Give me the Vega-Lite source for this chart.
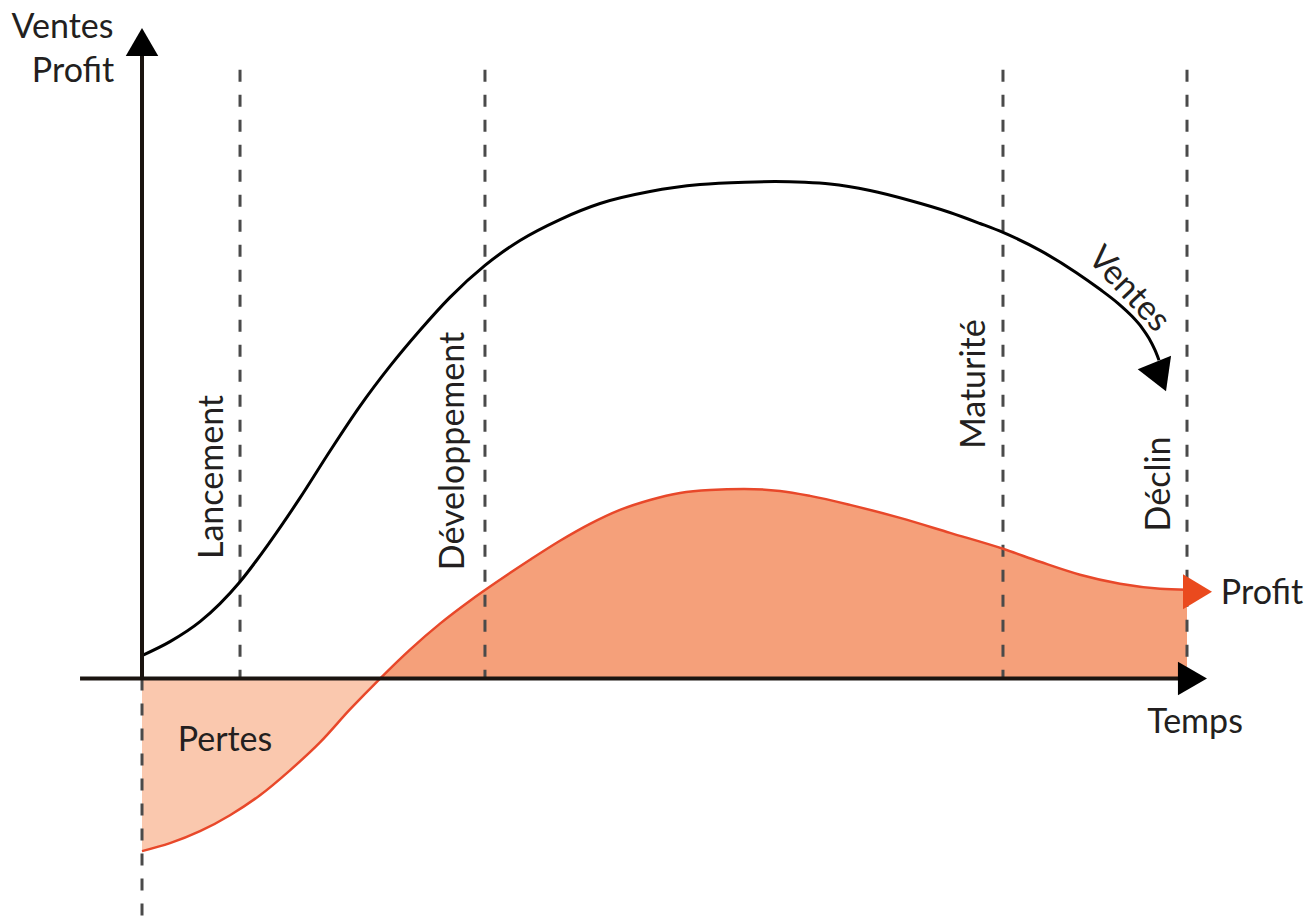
{
  "$schema": "https://vega.github.io/schema/vega-lite/v6.json",
  "width": 1316,
  "height": 923,
  "padding": 0,
  "autosize": {"type": "fit", "contains": "padding"},
  "background": "white",
  "config": {"view": {"stroke": null}},
  "datasets": {
    "ventes": [
      {"t": 0, "v": 3.53}, {"t": 2.68, "v": 5.67}, {"t": 5.55, "v": 8.74}, {"t": 9.38, "v": 14.88},
      {"t": 12.25, "v": 21.01}, {"t": 15.12, "v": 27.76}, {"t": 17.99, "v": 34.97}, {"t": 20.86, "v": 41.87},
      {"t": 23.73, "v": 48.01}, {"t": 26.6, "v": 53.53}, {"t": 29.47, "v": 58.59}, {"t": 32.82, "v": 63.5},
      {"t": 36.17, "v": 67.33}, {"t": 40.0, "v": 70.55}, {"t": 43.83, "v": 73.01}, {"t": 48.61, "v": 74.85},
      {"t": 53.4, "v": 75.92}, {"t": 57.7, "v": 76.29}, {"t": 60.57, "v": 76.38}, {"t": 63.44, "v": 76.26},
      {"t": 65.84, "v": 76.0}, {"t": 69.67, "v": 75.0}, {"t": 73.49, "v": 73.47}, {"t": 77.32, "v": 71.63},
      {"t": 80.19, "v": 69.94}, {"t": 82.39, "v": 68.56}, {"t": 85.93, "v": 65.8}, {"t": 89.38, "v": 62.42},
      {"t": 91.67, "v": 59.82}, {"t": 93.4, "v": 57.67}, {"t": 94.74, "v": 55.67}, {"t": 95.69, "v": 53.91},
      {"t": 96.36, "v": 52.3}, {"t": 96.94, "v": 50.46}, {"t": 97.32, "v": 48.93}
    ],
    "profit": [
      {"t": 0, "v": -26.53}, {"t": 2.68, "v": -25.31}, {"t": 5.55, "v": -23.47}, {"t": 8.42, "v": -21.01},
      {"t": 11.29, "v": -17.94}, {"t": 14.16, "v": -14.11}, {"t": 17.03, "v": -9.82}, {"t": 19.9, "v": -4.75},
      {"t": 22.78, "v": 0}, {"t": 25.65, "v": 4.45}, {"t": 28.52, "v": 8.44}, {"t": 31.39, "v": 11.96},
      {"t": 34.26, "v": 15.18}, {"t": 37.13, "v": 18.25}, {"t": 40.0, "v": 21.17}, {"t": 42.87, "v": 23.77},
      {"t": 45.74, "v": 25.92}, {"t": 48.61, "v": 27.45}, {"t": 51.48, "v": 28.53}, {"t": 54.35, "v": 28.99},
      {"t": 57.61, "v": 29.14}, {"t": 61.05, "v": 28.83}, {"t": 63.92, "v": 28.07}, {"t": 67.75, "v": 26.69},
      {"t": 72.54, "v": 24.69}, {"t": 77.32, "v": 22.39}, {"t": 82.39, "v": 19.94}, {"t": 85.93, "v": 17.94},
      {"t": 89.76, "v": 15.95}, {"t": 93.59, "v": 14.57}, {"t": 97.42, "v": 13.8}, {"t": 100, "v": 13.65}
    ],
    "phases": [
      {"t": 0, "v": 0, "v2": -37.27},
      {"t": 9.38, "v": 93.56, "v2": 0},
      {"t": 32.82, "v": 93.56, "v2": 0},
      {"t": 82.39, "v": 93.56, "v2": 0},
      {"t": 100, "v": 93.56, "v2": 0}
    ],
    "axes": [
      {"t": -5.93, "t2": 99.5, "v": 0, "v2": 0},
      {"t": 0, "t2": 0, "v": 0, "v2": 97}
    ],
    "fleches": [
      {"nom": "axe_v", "t": 0, "v": 100},
      {"nom": "axe_t", "t": 101.91, "v": 0},
      {"nom": "ventes", "t": 97.99, "v": 44.17},
      {"nom": "profit", "t": 102.39, "v": 13.34}
    ],
    "textes": [
      {"texte": "Ventes", "t": -7.61, "v": 98.47},
      {"texte": "Profit", "t": -6.6, "v": 91.72},
      {"texte": "Pertes", "t": 7.94, "v": -11.2},
      {"texte": "Profit", "t": 107.18, "v": 11.5},
      {"texte": "Temps", "t": 100.77, "v": -8.44}
    ],
    "etapes": [
      {"texte": "Lancement", "t": 7.75, "v": 30.98},
      {"texte": "Développement", "t": 30.81, "v": 34.97},
      {"texte": "Maturité", "t": 80.67, "v": 45.25},
      {"texte": "Déclin", "t": 98.37, "v": 29.91}
    ],
    "courbe": [
      {"texte": "Ventes", "t": 94.4, "v": 59.8}
    ]
  },
  "encoding": {
    "x": {"field": "t", "type": "quantitative", "scale": {"domain": [-13.589, 112.344], "nice": false, "zero": false}, "axis": null},
    "y": {"field": "v", "type": "quantitative", "scale": {"domain": [-37.27, 104.29], "nice": false, "zero": false}, "axis": null}
  },
  "layer": [
    {
      "data": {"name": "profit"},
      "transform": [{"filter": "datum.t <= 22.78"}],
      "mark": {"type": "area", "color": "#FAC8AE", "interpolate": "monotone", "opacity": 1},
      "encoding": {"y2": {"datum": 0}}
    },
    {
      "data": {"name": "profit"},
      "transform": [{"filter": "datum.t >= 22.78"}],
      "mark": {"type": "area", "color": "#F5A07A", "interpolate": "monotone", "opacity": 1},
      "encoding": {"y2": {"datum": 0}}
    },
    {
      "data": {"name": "phases"},
      "mark": {"type": "rule", "color": "#4a4a4a", "strokeWidth": 3, "strokeDash": [12, 13]},
      "encoding": {"y2": {"field": "v2"}}
    },
    {
      "data": {"name": "profit"},
      "mark": {"type": "line", "color": "#E8482A", "strokeWidth": 2.5, "interpolate": "monotone"},
      "encoding": {}
    },
    {
      "data": {"name": "ventes"},
      "mark": {"type": "line", "color": "#000000", "strokeWidth": 3, "interpolate": "monotone"},
      "encoding": {}
    },
    {
      "data": {"name": "axes"},
      "mark": {"type": "rule", "color": "#1a1410", "strokeWidth": 4},
      "encoding": {"x2": {"field": "t2"}, "y2": {"field": "v2"}}
    },
    {
      "data": {"name": "fleches"},
      "transform": [{"filter": "datum.nom == 'axe_v'"}],
      "mark": {"type": "point", "shape": "M0,0L-1,-0.58L-1,0.58Z", "filled": true, "color": "#000000", "opacity": 1, "strokeWidth": 0, "size": 3136, "angle": -90},
      "encoding": {}
    },
    {
      "data": {"name": "fleches"},
      "transform": [{"filter": "datum.nom == 'axe_t'"}],
      "mark": {"type": "point", "shape": "M0,0L-1,-0.58L-1,0.58Z", "filled": true, "color": "#000000", "opacity": 1, "strokeWidth": 0, "size": 3364, "angle": 0},
      "encoding": {}
    },
    {
      "data": {"name": "fleches"},
      "transform": [{"filter": "datum.nom == 'ventes'"}],
      "mark": {"type": "point", "shape": "M0,0L-1,-0.58L-1,0.58Z", "filled": true, "color": "#000000", "opacity": 1, "strokeWidth": 0, "size": 3844, "angle": 68},
      "encoding": {}
    },
    {
      "data": {"name": "fleches"},
      "transform": [{"filter": "datum.nom == 'profit'"}],
      "mark": {"type": "point", "shape": "M0,0L-1,-0.6L-1,0.6Z", "filled": true, "color": "#EA4A1E", "opacity": 1, "strokeWidth": 0, "size": 3364, "angle": 0},
      "encoding": {}
    },
    {
      "data": {"name": "textes"},
      "mark": {"type": "text", "font": "Lato", "fontSize": 34, "color": "#231F20", "align": "center", "baseline": "alphabetic"},
      "encoding": {"text": {"field": "texte"}}
    },
    {
      "data": {"name": "etapes"},
      "mark": {"type": "text", "font": "Lato", "fontSize": 34, "color": "#231F20", "align": "center", "baseline": "alphabetic", "angle": 270},
      "encoding": {"text": {"field": "texte"}}
    },
    {
      "data": {"name": "courbe"},
      "mark": {"type": "text", "font": "Lato", "fontSize": 34, "color": "#231F20", "align": "center", "baseline": "middle", "angle": 47},
      "encoding": {"text": {"field": "texte"}}
    }
  ]
}
